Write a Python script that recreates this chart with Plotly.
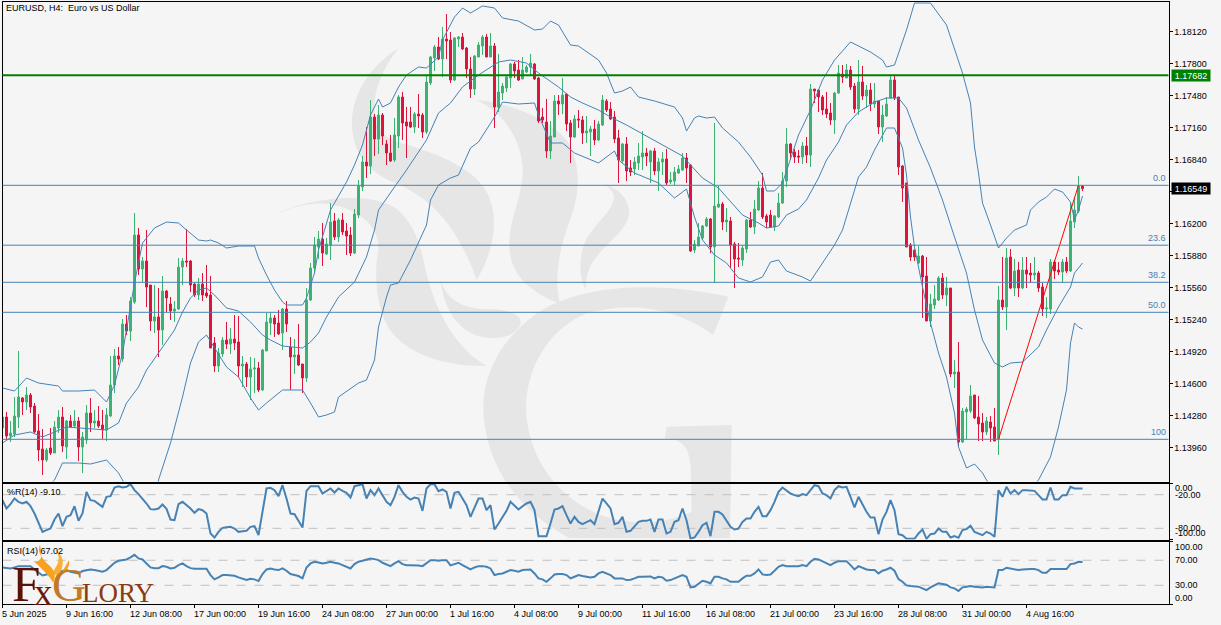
import re
import plotly.graph_objects as go

W, H = 1221, 625

title_text = "EURUSD, H4:  Euro vs US Dollar"
tick_labels = ["5 Jun 2025", "9 Jun 16:00", "12 Jun 08:00", "17 Jun 00:00", "19 Jun 16:00", "24 Jun 08:00",
               "27 Jun 00:00", "1 Jul 16:00", "4 Jul 08:00", "9 Jul 00:00", "11 Jul 16:00", "16 Jul 08:00",
               "21 Jul 00:00", "23 Jul 16:00", "28 Jul 08:00", "31 Jul 00:00", "4 Aug 16:00"]
tick_bars = [0, 16, 32, 48, 64, 80, 96, 112, 128, 144, 160, 176, 192, 208, 224, 240, 256]
price_ticks = [1.18120, 1.17800, 1.17480, 1.17160, 1.16840, 1.16520, 1.16200, 1.15880, 1.15560, 1.15240,
               1.14920, 1.14600, 1.14280, 1.13960]

opens = [
1.14155,1.14265,1.14075,1.14095,1.14265,1.14455,1.14415,1.14485,1.14375,1.14125,
1.13945,1.13835,1.13955,1.13905,1.14155,1.14265,1.13965,1.14225,1.14175,1.14225,
1.13965,1.14035,1.14305,1.14205,1.14225,1.14185,1.14135,1.14275,1.14585,1.14875,
1.14845,1.15195,1.15125,1.15415,1.16085,1.15745,1.15825,1.15585,1.15225,1.15265,
1.15135,1.15525,1.15395,1.15325,1.15345,1.15765,1.15825,1.15825,1.15595,1.15485,
1.15595,1.15505,1.15485,1.15005,1.14775,1.14895,1.15035,1.14995,1.15045,1.15015,
1.14775,1.14795,1.14665,1.14745,1.14755,1.14535,1.14925,1.15205,1.15255,1.15205,
1.15105,1.15345,1.14965,1.14865,1.14885,1.14795,1.14655,1.15435,1.15755,1.15965,
1.16045,1.15895,1.15985,1.16225,1.16065,1.16235,1.16125,1.16085,1.15905,1.16285,
1.16565,1.16815,1.16775,1.17265,1.17045,1.17285,1.16995,1.16905,1.16835,1.17075,
1.17465,1.17215,1.17215,1.17165,1.17295,1.17285,1.17115,1.17605,1.17855,1.17965,
1.17845,1.18045,1.18035,1.17635,1.18045,1.18065,1.17955,1.17745,1.17545,1.17865,
1.17975,1.18065,1.17865,1.17975,1.17365,1.17505,1.17555,1.17655,1.17795,1.17735,
1.17645,1.17715,1.17765,1.17795,1.17655,1.17265,1.17215,1.16925,1.17065,1.17425,
1.17395,1.17495,1.17205,1.17065,1.17245,1.17235,1.17105,1.17115,1.17145,1.17035,
1.17185,1.17425,1.17345,1.17265,1.17055,1.16825,1.16995,1.16755,1.16745,1.16805,
1.16865,1.16905,1.16815,1.16925,1.16725,1.16815,1.16845,1.16615,1.16625,1.16705,
1.16735,1.16855,1.16785,1.15935,1.15975,1.16055,1.16175,1.16245,1.15965,1.16365,
1.16395,1.16215,1.16225,1.15995,1.15855,1.15835,1.15945,1.16235,1.16165,1.16335,
1.16555,1.16275,1.16285,1.16165,1.16265,1.16405,1.16625,1.16995,1.16915,1.16875,
1.16865,1.16975,1.16885,1.17545,1.17535,1.17465,1.17345,1.17305,1.17235,1.17505,
1.17695,1.17655,1.17735,1.17575,1.17345,1.17615,1.17475,1.17535,1.17395,1.17425,
1.17165,1.17275,1.17455,1.17635,1.17465,1.16775,1.16605,1.15985,1.15935,1.15805,
1.15875,1.15675,1.15225,1.15385,1.15435,1.15655,1.15485,1.15555,1.14695,1.14715,
1.14015,1.14315,1.14325,1.14485,1.14265,1.14205,1.14115,1.14215,1.14165,1.14045,
1.15435,1.15365,1.15865,1.15555,1.15735,1.15555,1.15735,1.15705,1.15685,1.15705,
1.15565,1.15345,1.15345,1.15815,1.15735,1.15715,1.15815,1.15725,1.16215,1.16325,1.16575]

highs = [
1.14305,1.14315,1.14225,1.14465,1.14925,1.14465,1.14565,1.14505,1.14405,1.14295,
1.14145,1.13955,1.14155,1.14225,1.14335,1.14365,1.14235,1.14285,1.14335,1.14265,
1.14115,1.14385,1.14455,1.14335,1.14375,1.14335,1.14355,1.14875,1.14945,1.14965,
1.15245,1.15285,1.15465,1.16305,1.16155,1.15865,1.16135,1.15585,1.15585,1.15555,
1.15675,1.15535,1.15465,1.15425,1.15855,1.15855,1.16145,1.15835,1.15605,1.15655,
1.15705,1.15785,1.15675,1.15065,1.14955,1.15065,1.15215,1.15155,1.15285,1.15275,
1.14875,1.14815,1.14865,1.14855,1.14815,1.14945,1.15305,1.15315,1.15285,1.15335,
1.15355,1.15425,1.15065,1.15045,1.15195,1.14795,1.15555,1.15805,1.16065,1.16125,
1.16205,1.16055,1.16405,1.16305,1.16255,1.16305,1.16205,1.16165,1.16345,1.16635,
1.16875,1.17165,1.17435,1.17295,1.17385,1.17305,1.17035,1.17085,1.17255,1.17485,
1.17515,1.17365,1.17365,1.17315,1.17495,1.17305,1.17685,1.17875,1.17985,1.18065,
1.18165,1.18295,1.18115,1.18065,1.18075,1.18105,1.17965,1.17865,1.17885,1.18015,
1.18085,1.18095,1.18105,1.18005,1.17895,1.17605,1.17685,1.17805,1.17815,1.17835,
1.17865,1.17785,1.17895,1.17805,1.17665,1.17355,1.17445,1.17225,1.17485,1.17485,
1.17655,1.17505,1.17235,1.17285,1.17335,1.17275,1.17275,1.17175,1.17235,1.17225,
1.17485,1.17445,1.17415,1.17325,1.17135,1.17005,1.17065,1.16835,1.16865,1.17005,
1.17125,1.16955,1.16935,1.16955,1.16855,1.16915,1.16945,1.16715,1.16765,1.16785,
1.16905,1.16905,1.16795,1.16035,1.16205,1.16185,1.16265,1.16255,1.17205,1.16575,
1.16415,1.16355,1.16265,1.16015,1.16005,1.15985,1.16245,1.16315,1.16435,1.16625,
1.16705,1.16295,1.16335,1.16285,1.16505,1.16715,1.17155,1.17005,1.16945,1.16935,
1.17015,1.17065,1.17595,1.17545,1.17545,1.17485,1.17515,1.17405,1.17515,1.17785,
1.17785,1.17795,1.17775,1.17605,1.17835,1.17775,1.17585,1.17605,1.17605,1.17425,
1.17385,1.17465,1.17675,1.17685,1.17465,1.16785,1.16605,1.16005,1.15935,1.15975,
1.15885,1.15865,1.15495,1.15585,1.15675,1.15705,1.15665,1.15555,1.14835,1.15015,
1.14355,1.14365,1.14585,1.14485,1.14475,1.14305,1.14265,1.14275,1.14355,1.15575,
1.15865,1.15955,1.15945,1.15845,1.15815,1.15865,1.15865,1.15805,1.15865,1.15725,
1.15605,1.15465,1.15845,1.15835,1.15815,1.15845,1.15865,1.16405,1.16465,1.16675,1.16585]

lows = [
1.14115,1.14035,1.14015,1.14065,1.14155,1.14285,1.14335,1.14305,1.14105,1.13825,
1.13685,1.13815,1.13885,1.13905,1.14105,1.13915,1.13845,1.14155,1.14155,1.13825,
1.13705,1.13995,1.14115,1.14155,1.14155,1.14045,1.14025,1.14265,1.14505,1.14785,
1.14815,1.15085,1.15025,1.15395,1.15685,1.15615,1.15365,1.15125,1.15105,1.14865,
1.14985,1.15315,1.15235,1.15215,1.15335,1.15585,1.15765,1.15515,1.15465,1.15435,
1.15425,1.15455,1.14955,1.14715,1.14715,1.14865,1.14945,1.14895,1.14935,1.14665,
1.14565,1.14565,1.14435,1.14505,1.14515,1.14525,1.14925,1.15085,1.15065,1.15085,
1.14935,1.15115,1.14535,1.14695,1.14775,1.14505,1.14615,1.15425,1.15705,1.15845,
1.15775,1.15885,1.15835,1.16035,1.16015,1.16085,1.15885,1.15875,1.15895,1.16255,
1.16525,1.16655,1.16695,1.16875,1.16895,1.16985,1.16785,1.16815,1.16815,1.16955,
1.17035,1.16855,1.17155,1.17105,1.17155,1.17055,1.17095,1.17585,1.17725,1.17835,
1.17665,1.17845,1.17605,1.17625,1.17965,1.17935,1.17655,1.17455,1.17485,1.17865,
1.17885,1.17865,1.17865,1.17155,1.17315,1.17435,1.17515,1.17555,1.17655,1.17625,
1.17645,1.17705,1.17685,1.17635,1.17205,1.17205,1.16855,1.16845,1.17065,1.17285,
1.17295,1.17125,1.16805,1.17055,1.17155,1.16995,1.17005,1.16875,1.16985,1.17025,
1.17175,1.17315,1.17235,1.17005,1.16605,1.16805,1.16625,1.16675,1.16685,1.16735,
1.16735,1.16775,1.16605,1.16685,1.16525,1.16685,1.16585,1.16595,1.16585,1.16695,
1.16725,1.16605,1.15915,1.15905,1.15975,1.16035,1.16165,1.15905,1.15605,1.16355,
1.16135,1.16115,1.15755,1.15555,1.15765,1.15775,1.15905,1.16155,1.16095,1.16325,
1.16245,1.16155,1.16155,1.16125,1.16255,1.16395,1.16565,1.16835,1.16805,1.16805,
1.16795,1.16805,1.16765,1.17405,1.17315,1.17285,1.17255,1.17185,1.17095,1.17495,
1.17605,1.17655,1.17535,1.17305,1.17285,1.17435,1.17355,1.17325,1.17355,1.17095,
1.17015,1.17265,1.17455,1.17435,1.16685,1.16415,1.15965,1.15825,1.15825,1.15795,
1.15255,1.15225,1.15165,1.15345,1.15425,1.15445,1.15375,1.14665,1.14555,1.13975,
1.14005,1.14045,1.14305,1.14245,1.14025,1.14025,1.14085,1.14015,1.14025,1.13885,
1.15335,1.15135,1.15545,1.15475,1.15465,1.15545,1.15555,1.15605,1.15635,1.15515,
1.15275,1.15255,1.15295,1.15645,1.15685,1.15605,1.15705,1.15715,1.16155,1.16305,1.16525]

closes = [
1.14265,1.14075,1.14105,1.14275,1.14465,1.14415,1.14485,1.14365,1.14115,1.13935,
1.13835,1.13935,1.13905,1.14165,1.14265,1.13975,1.14225,1.14165,1.14225,1.13965,
1.14065,1.14305,1.14205,1.14225,1.14175,1.14135,1.14285,1.14585,1.14875,1.14845,
1.15195,1.15125,1.15425,1.16085,1.15745,1.15825,1.15565,1.15225,1.15265,1.15135,
1.15525,1.15455,1.15325,1.15345,1.15765,1.15825,1.15815,1.15585,1.15485,1.15595,
1.15485,1.15475,1.14955,1.14775,1.14905,1.15035,1.14995,1.15045,1.15005,1.14775,
1.14795,1.14665,1.14745,1.14755,1.14535,1.14935,1.15215,1.15255,1.15195,1.15095,
1.15345,1.15195,1.14865,1.14885,1.14785,1.14655,1.15435,1.15755,1.15985,1.16045,
1.15905,1.15995,1.16215,1.16065,1.16235,1.16115,1.16075,1.15905,1.16295,1.16575,
1.16815,1.16775,1.17265,1.17045,1.17285,1.17075,1.16905,1.16825,1.17085,1.17465,
1.17205,1.17175,1.17165,1.17295,1.17275,1.17115,1.17615,1.17865,1.17965,1.17845,
1.18045,1.18025,1.17635,1.18055,1.18065,1.17945,1.17745,1.17545,1.17875,1.17985,
1.18065,1.17865,1.17975,1.17365,1.17515,1.17575,1.17665,1.17795,1.17725,1.17635,
1.17735,1.17765,1.17805,1.17645,1.17225,1.17235,1.16925,1.17075,1.17425,1.17395,
1.17485,1.17195,1.17065,1.17245,1.17235,1.17105,1.17125,1.17145,1.17035,1.17195,
1.17435,1.17335,1.17245,1.17045,1.16835,1.16995,1.16725,1.16715,1.16815,1.16875,
1.16905,1.16875,1.16925,1.16725,1.16815,1.16845,1.16605,1.16635,1.16715,1.16745,
1.16855,1.16755,1.15925,1.15995,1.16065,1.16175,1.16245,1.15965,1.16375,1.16395,
1.16215,1.16235,1.15985,1.15845,1.15845,1.15955,1.16235,1.16165,1.16345,1.16555,
1.16265,1.16215,1.16165,1.16275,1.16405,1.16625,1.16995,1.16905,1.16865,1.16865,
1.16975,1.16885,1.17545,1.17525,1.17465,1.17335,1.17295,1.17235,1.17505,1.17705,
1.17665,1.17735,1.17565,1.17345,1.17615,1.17475,1.17535,1.17395,1.17425,1.17165,
1.17285,1.17395,1.17635,1.17455,1.16765,1.16555,1.15965,1.15865,1.15865,1.15875,
1.15665,1.15225,1.15395,1.15445,1.15655,1.15485,1.15555,1.14695,1.14715,1.14015,
1.14325,1.14345,1.14475,1.14255,1.14195,1.14115,1.14225,1.14155,1.14025,1.15435,
1.15365,1.15855,1.15555,1.15725,1.15555,1.15735,1.15695,1.15685,1.15705,1.15555,
1.15345,1.15355,1.15815,1.15725,1.15715,1.15815,1.15725,1.16225,1.16335,1.16575,1.16549]

upper_bars = [0,3,6,9,14,15,19,23,26,28,30,33,35,38,41,44,46,49,51,52,54,56,59,63,64,66,68,70,71,75,76,78,79,81,82,86,88,90,91,92,94,95,97,99,101,104,106,109,110,113,115,117,120,123,125,129,133,135,137,139,142,144,149,151,153,155,157,159,163,168,170,171,173,174,176,178,180,184,187,190,191,193,195,197,199,202,205,208,212,214,217,220,221,223,226,228,232,236,239,240,242,243,244,245,247,249,251,253,256,257,259,261,263,265,267,268,269,270]
upper_vals = [1.14555,1.14525,1.14655,1.14605,1.14575,1.14525,1.14525,1.14535,1.14415,1.14585,1.14905,1.15605,1.16005,1.16155,1.16215,1.16205,1.16135,1.16035,1.16025,1.16035,1.16005,1.15955,1.15975,1.15975,1.15855,1.15685,1.15535,1.15415,1.15385,1.15385,1.15455,1.15705,1.15935,1.16215,1.16335,1.16615,1.16785,1.16985,1.17135,1.17285,1.17445,1.17365,1.17405,1.17565,1.17685,1.17765,1.17755,1.17865,1.18035,1.18265,1.18355,1.18305,1.18375,1.18355,1.18255,1.18225,1.18135,1.18145,1.18225,1.18185,1.17985,1.17975,1.17835,1.17705,1.17505,1.17525,1.17565,1.17465,1.17425,1.17365,1.17255,1.17125,1.17255,1.17275,1.17255,1.17265,1.17155,1.17015,1.16865,1.16685,1.16525,1.16525,1.16605,1.16855,1.17085,1.17335,1.17635,1.17835,1.18015,1.17975,1.17915,1.17835,1.17765,1.17785,1.18135,1.18405,1.18405,1.18185,1.17835,1.17705,1.17405,1.16965,1.16705,1.16405,1.16185,1.15955,1.16055,1.16135,1.16185,1.16335,1.16415,1.16465,1.16545,1.16515,1.16415,1.16235,1.16335,1.16475]

middle_bars = [0,3,7,10,16,20,26,29,31,34,36,39,43,45,47,49,51,53,56,59,62,65,67,70,75,77,79,81,84,88,91,93,94,98,101,106,109,112,115,119,124,127,131,134,139,142,145,149,152,156,160,164,170,172,175,179,182,185,189,191,194,196,199,201,204,206,209,211,214,218,221,224,226,229,232,235,238,241,243,245,248,250,252,255,259,261,264,267,268,270]
middle_vals = [1.14005,1.14085,1.14115,1.14065,1.14165,1.14155,1.14135,1.14205,1.14405,1.14565,1.14735,1.14905,1.15135,1.15315,1.15455,1.15535,1.15555,1.15485,1.15355,1.15325,1.15215,1.15085,1.15035,1.14975,1.14955,1.15015,1.15105,1.15265,1.15465,1.15615,1.15865,1.16135,1.16335,1.16565,1.16735,1.17035,1.17305,1.17405,1.17565,1.17685,1.17815,1.17835,1.17805,1.17705,1.17565,1.17465,1.17405,1.17335,1.17265,1.17185,1.17095,1.17005,1.16875,1.16785,1.16655,1.16555,1.16415,1.16285,1.16205,1.16155,1.16175,1.16285,1.16345,1.16435,1.16655,1.16835,1.17015,1.17185,1.17315,1.17415,1.17455,1.17455,1.17355,1.17035,1.16755,1.16435,1.16065,1.15705,1.15335,1.15035,1.14805,1.14765,1.14805,1.14815,1.14965,1.15135,1.15365,1.15565,1.15705,1.15805]

lower_bars = [0,8,13,15,19,22,26,29,30,33,38,39,42,45,47,49,51,53,56,59,62,64,66,70,75,77,79,81,83,84,89,91,93,94,96,97,99,102,104,106,107,109,112,114,117,119,123,125,129,133,134,137,140,143,149,151,153,154,158,164,168,171,173,175,178,181,184,187,190,192,194,196,200,202,205,208,210,213,214,216,218,221,223,225,226,227,228,230,232,234,236,238,239,241,243,245,246,252,259,262,264,266,267,268,269,270]
lower_vals = [1.13455,1.13455,1.13635,1.13805,1.13805,1.13795,1.13835,1.13705,1.13635,1.13335,1.13235,1.13635,1.14005,1.14465,1.14805,1.15015,1.15085,1.14955,1.14765,1.14665,1.14455,1.14335,1.14405,1.14535,1.14535,1.14405,1.14265,1.14285,1.14315,1.14465,1.14605,1.14635,1.14835,1.15165,1.15465,1.15585,1.15605,1.15835,1.16005,1.16185,1.16435,1.16585,1.16655,1.16685,1.16955,1.17015,1.17265,1.17415,1.17395,1.17405,1.17285,1.17005,1.17005,1.16905,1.16805,1.16865,1.16925,1.16835,1.16705,1.16605,1.16455,1.16545,1.16265,1.16035,1.15885,1.15805,1.15655,1.15615,1.15665,1.15815,1.15835,1.15725,1.15665,1.15625,1.15805,1.15985,1.16135,1.16535,1.16665,1.16765,1.16935,1.17155,1.17155,1.16955,1.16685,1.16265,1.15965,1.15565,1.15205,1.14905,1.14665,1.14305,1.13965,1.13755,1.13795,1.13705,1.13635,1.13335,1.13635,1.13865,1.14165,1.14535,1.15005,1.15205,1.15165,1.15145]

williams_r = [
-29.8,-44.6,-36.9,-26.8,-32.7,-35.7,-32.7,-40.5,-53.6,-71.4,-86.3,-83.3,-80.4,-64.3,-53.6,-76.2,-59.5,-56.5,-40.5,-66.7,
-53.6,-14.9,-29.8,-31,-36.9,-41.7,-23.8,-22.6,-7.1,-4.8,-7.1,-6,-1.2,-11.9,-19,-26.8,-35.7,-45.8,-46.4,-44.6,
-37.5,-45.2,-64.3,-65.5,-36.9,-32.7,-38.7,-44.6,-52.4,-45.8,-47.6,-53.6,-89.3,-96.4,-86.3,-79.2,-78,-77.4,-80.4,-86.3,
-85.1,-84.5,-77.4,-76.2,-92.3,-47.6,-8.9,-7.7,-11.9,-22.6,-3,-26.8,-53.6,-54.8,-65.5,-78.6,-13.1,-4.8,-4.8,-4.8,
-17.9,-13.1,-8.9,-16.1,-8.9,-13.1,-16.7,-25,-4.8,-3,-1.2,-26.8,-11.9,-20.8,-8.9,-20.8,-32.7,-38.7,-23.8,-3,
-14.9,-23.8,-28.6,-25,-26.8,-48.8,-8.9,-1.2,-1.2,-13.7,-10.7,-14.9,-44.6,-16.7,-14.9,-26.8,-38.7,-59.5,-41.7,-26.8,
-26.8,-47.6,-38.7,-82.1,-71.4,-60.7,-48.8,-32.7,-38.7,-46.4,-40.5,-35.7,-32.7,-47.6,-94,-94,-94,-71.4,-46.4,-44.6,
-40.5,-56.5,-71.4,-59.5,-68.5,-72.6,-68.5,-65.5,-72.6,-47.6,-26.8,-35.7,-44.6,-72.6,-70.2,-59.5,-86.3,-84.5,-77.4,-68.5,
-66.7,-66.7,-64.3,-86.3,-64.3,-64.3,-89.3,-86.3,-68.5,-65.5,-44.6,-65.5,-98.2,-96.4,-86.3,-74.4,-70.2,-94,-50.6,-50.6,
-55.4,-65.5,-77.4,-82.1,-80.4,-68.5,-62.5,-62.5,-50.6,-41.7,-58.3,-58.3,-47.6,-32.7,-14.9,-7.1,-11.9,-17.9,-20.8,-22.6,
-19,-20.8,-11.9,-3,-4.8,-17.9,-20.8,-26.8,-11.9,-4.8,-7.1,-6,-23.8,-42.9,-23.8,-38.7,-50.6,-60.7,-60.7,-90.5,
-64.3,-50.6,-29.8,-47.6,-90.5,-92.3,-98.8,-98.8,-98.8,-89.3,-82.1,-98.8,-90.5,-89.3,-80.4,-86.3,-86.3,-96.4,-94,-97,
-83.3,-81.5,-75.6,-86.3,-89.3,-92.3,-86.3,-89.3,-95.2,-11.9,-23.8,-6,-17.9,-11.9,-19,-11.9,-11.9,-11.9,-13.1,-20.8,
-28.6,-28.6,-7.1,-28.6,-28.6,-20.8,-20.8,-6,-8.9,-8.9,-9.1]

rsi = [
58.5,58,56.9,58.5,60.6,60.6,60.6,60.6,55.3,50,45.7,47.3,48.9,50.5,51.6,53.2,54.3,51.6,50,48.9,
52.7,54.3,55.3,54.3,53.2,51.6,54.3,60.6,66,69.1,70.2,71.3,74.5,78.7,72.9,71.3,64.9,58.5,57.4,57.4,
60.6,59.6,56.9,58,62.2,64.9,60.6,57.4,56.4,56.4,56.4,56.4,46.3,39.4,42.6,46.3,46.3,46.3,45.2,42.6,
40.4,38.3,40.4,39.4,36.7,47.9,55.3,56.9,55.3,54.3,56.9,53.2,47.9,46.8,44.7,41,58.5,64.9,67.6,66.5,
64.9,66,67.6,66,64.9,62.2,59.6,56.9,63.8,67.6,69.1,71.3,72.9,71.8,70.2,66,63.3,60.6,64.9,68.6,
63.8,62.2,62.2,62.2,61.7,60.6,66,70.2,70.2,69.1,70.2,70.2,61.7,63.8,66,62.2,58.5,55.3,58.5,60.6,
60.6,59.6,56.9,46.3,47.9,48.9,51.6,54.3,53.2,51.6,54.3,55.3,55.3,48.9,41,39.4,35.6,41,47.3,47.9,
47.9,46.3,41,43.6,46.3,44.7,43.6,42.6,43.6,48.9,51.6,48.9,46.3,41,40.4,41,38.3,38.8,41,43.6,
43.6,43.6,44.1,41,43.6,42.6,37.2,38.3,41,43.6,46.3,43.6,26.6,27.7,31.9,37.2,35.6,33,43.6,43.6,
41,39.4,35.6,35.6,35.6,41,45.2,45.2,48.9,55.3,47.3,46.3,47.3,53.2,59.6,62.2,60.6,60.6,60.6,60.6,
62.2,60.6,67.6,72.3,71.3,68.6,66,62.2,66,68.6,68.6,68.6,62.2,55.3,60.6,58,55.3,54.3,54.3,48.9,
53.2,55.3,58,53.2,39.9,35.6,29.8,28.7,28.7,27.7,25,22.3,26.6,30.3,33,31.9,30.9,26.6,25,20.7,
26.6,27.7,28.7,27.7,26.6,26.6,27.7,27.7,26.6,54.3,54.3,58,56.9,55.3,54.3,55.3,55.9,55.9,55.9,54.3,
50,50,55.9,55.9,55.9,55.9,55.9,63.8,64.9,67.6,67.02]

resistance_level = 1.17682
last_price = 1.16549
fib_levels = [1.16582, 1.15983, 1.15612, 1.15312, 1.14042]
fib_names = ["0.0", "23.6", "38.2", "50.0", "100"]
trend_bars = [249, 269]
trend_prices = [1.14042, 1.16582]

bars = list(range(len(closes)))

BG = "#f5f5f5"
STEEL = "#4682b4"
TXT = "Liberation Sans"
XL, XR = 2.5, 1168.5


def py(v):
    return 1 - v / H


def px(v):
    return v / W


def paper_path(s, ox=0.0, oy=0.0, k=1.0):
    """Decorative artwork: maps drawing coordinates to paper coordinates."""
    out = []
    for t in re.findall(r"[MCLZ]|-?\d+(?:\.\d+)?,-?\d+(?:\.\d+)?", s):
        if "," in t:
            a, b = t.split(",")
            out.append(f"{px(ox + float(a) * k):.5f},{py(oy + float(b) * k):.5f}")
        else:
            out.append(t)
    return " ".join(out)


fig = go.Figure()
fig.add_trace(go.Candlestick(
    x=bars, open=opens, high=highs, low=lows, close=closes, whiskerwidth=0,
    increasing=dict(line=dict(color="#3cb371", width=1), fillcolor="#3cb371"),
    decreasing=dict(line=dict(color="#dc143c", width=1), fillcolor="#dc143c"),
    xaxis="x", yaxis="y", showlegend=False, hoverinfo="skip"))
for bx, by in ((upper_bars, upper_vals), (middle_bars, middle_vals), (lower_bars, lower_vals)):
    fig.add_trace(go.Scatter(x=bx, y=by, mode="lines", line=dict(color=STEEL, width=1),
                             xaxis="x", yaxis="y", showlegend=False, hoverinfo="skip"))
fig.add_trace(go.Scatter(x=trend_bars, y=trend_prices, mode="lines", line=dict(color="#ff0000", width=1),
                         xaxis="x", yaxis="y", showlegend=False, hoverinfo="skip"))
fig.add_trace(go.Scatter(x=bars, y=williams_r, mode="lines", line=dict(color=STEEL, width=2),
                         xaxis="x2", yaxis="y2", showlegend=False, hoverinfo="skip"))
fig.add_trace(go.Scatter(x=bars, y=rsi, mode="lines", line=dict(color=STEEL, width=2),
                         xaxis="x3", yaxis="y3", showlegend=False, hoverinfo="skip"))

shapes = []
# watermark artwork
WM = "#e6e6e6"
watermark = [
    "M 385,-5 C 280,60 230,170 250,260 C 265,330 300,370 400,410 C 480,450 560,520 620,690 C 680,590 690,480 640,410 C 590,340 470,300 380,275 C 300,250 280,130 385,-5 Z",
    "M 25,490 C 100,450 280,420 370,470 C 430,510 450,580 465,650 C 490,770 550,890 650,948 C 520,950 410,910 360,840 C 320,780 310,680 325,600 C 330,530 270,480 180,462 C 120,455 70,470 25,490 Z",
    "M 620,150 C 700,155 830,200 890,270 C 930,330 935,420 900,510 C 870,590 850,680 870,762 C 790,730 720,680 718,590 C 715,500 760,450 758,350 C 750,260 700,190 620,150 Z",
    "M 990,400 C 1040,410 1075,440 1078,490 C 1070,550 990,590 960,650 C 950,680 945,700 948,722 C 925,680 925,620 950,565 C 985,510 1030,480 1032,440 C 1030,420 1010,405 990,400 Z",
    "M 512,690 C 530,750 580,780 670,778 C 720,780 755,795 752,820 C 745,855 690,870 640,862 C 570,850 520,780 512,690 Z",
    "M 1375,740 C 1200,700 950,690 800,790 C 680,880 640,980 640,1080 C 645,1240 740,1380 900,1465 L 1380,1465 L 1385,1125 L 1190,1130 L 1185,1165 C 1240,1170 1255,1190 1262,1250 L 1265,1385 C 1180,1425 1050,1430 960,1380 C 840,1320 770,1200 768,1070 C 770,960 830,840 950,790 C 1090,750 1230,780 1330,855 Z",
]
for p in watermark:
    shapes.append(dict(type="path", path=paper_path(p, 270, 50, 1 / 3), xref="paper", yref="paper",
                       fillcolor=WM, line=dict(width=0), layer="below"))
# dashed indicator levels
for lv in (-20, -80):
    shapes.append(dict(type="line", xref="x2 domain", yref="y2", x0=0, x1=1, y0=lv, y1=lv,
                       line=dict(color="#c0c0c0", width=1, dash="dash"), layer="below"))
for lv in (70, 30):
    shapes.append(dict(type="line", xref="x3 domain", yref="y3", x0=0, x1=1, y0=lv, y1=lv,
                       line=dict(color="#c0c0c0", width=1, dash="dash"), layer="below"))
# fib + resistance
for lv in fib_levels:
    shapes.append(dict(type="line", xref="x domain", yref="y", x0=0, x1=1, y0=lv, y1=lv,
                       line=dict(color=STEEL, width=1)))
shapes.append(dict(type="line", xref="x domain", yref="y", x0=0, x1=1, y0=resistance_level, y1=resistance_level,
                   line=dict(color="#008000", width=2)))
# logo flames
flames = [
    ("M 120,14 C 108,35 130,60 150,78 C 170,98 165,115 160,128 C 150,110 125,85 100,62 C 125,70 128,50 120,14 Z", "#f7a11e"),
    ("M 165,28 C 190,45 195,70 180,100 C 170,115 155,100 165,85 C 180,65 180,45 165,28 Z", "#f9b030"),
    ("M 207,60 C 212,80 195,100 168,118 C 185,97 197,80 207,60 Z", "#f7a11e"),
]
for p, c in flames:
    shapes.append(dict(type="path", path=paper_path(p, 0, 540, 1 / 3), xref="paper", yref="paper",
                       fillcolor=c, line=dict(width=0), layer="above"))

ann = []


def note(text, x, y, size=9, color="#000000", anchor="left", family=TXT, **kw):
    ann.append(dict(text=text, x=px(x), y=py(y), xref="paper", yref="paper", xanchor=anchor, yanchor="middle",
                    showarrow=False, font=dict(family=family, size=size, color=color), borderpad=0, **kw))


note(title_text, 5, 8)
note("%R(14) -9.10", 6, 492)
note("RSI(14) 67.02", 6, 551)
for name, lv in zip(fib_names, fib_levels):
    ann.append(dict(text=name, x=1, xref="x domain", xanchor="right", xshift=-2, y=lv, yref="y", yanchor="bottom",
                    yshift=1, showarrow=False, font=dict(family=TXT, size=9, color=STEEL), borderpad=0))
for lab, b in zip(tick_labels, tick_bars):
    ann.append(dict(text=lab, x=b, xref="x3", xanchor="left", xshift=-2, y=py(613.5), yref="paper", yanchor="middle",
                    showarrow=False, font=dict(family=TXT, size=9, color="#000000"), borderpad=0))
for txt, yy in (("0.00", 488), ("-20.00", 494.5), ("-80.00", 528), ("-100.00", 533),
                ("100.00", 546.5), ("70.00", 560), ("30.00", 585), ("0.00", 598)):
    note(txt, 1173.5, yy)
for lab, lv, c in ((f"{resistance_level:.5f}", resistance_level, "#008000"), (f"{last_price:.5f}", last_price, "#000000")):
    ann.append(dict(text=lab, x=px(1171), xref="paper", xanchor="left", y=lv, yref="y", yanchor="middle",
                    showarrow=False, font=dict(family=TXT, size=9, color="#ffffff"), bgcolor=c,
                    width=38, height=11, borderpad=0, align="center"))
SERIF = "Liberation Serif"
note("F", 11, 584, 51, "#5a1208", family=SERIF)
note("x", 33, 592, 37, "#6a1a0a", family=SERIF)
note("G", 51, 585, 47, "#c07a28", family=SERIF)
note("LORY", 81, 593, 27, "#8a3a12", family=SERIF)

dom_x = [px(XL), px(XR)]
line_kw = dict(showline=True, linecolor="#000000", linewidth=1, mirror=True, showgrid=False, zeroline=False)
bar_range = [0, (XR - XL) / 4]

fig.update_layout(
    width=W, height=H, autosize=False, margin=dict(l=0, r=0, t=0, b=0, pad=0),
    paper_bgcolor=BG, plot_bgcolor=BG, shapes=shapes, annotations=ann, showlegend=False,
    boxgap=0.5, boxgroupgap=0,
    font=dict(family=TXT, size=9, color="#000000"),
    xaxis=dict(domain=dom_x, range=bar_range, anchor="y", showticklabels=False, ticks="", rangeslider=dict(visible=False), **line_kw),
    yaxis=dict(domain=[py(481.5), py(1.5)], range=[1.18435 - 481.5e-4, 1.18435 - 1.5e-4], anchor="x", side="right",
               tickvals=price_ticks, ticktext=["" if v == 1.16520 else f"{v:.5f}" for v in price_ticks],
               ticks="outside", ticklen=3, tickcolor="#000000", tickfont=dict(family=TXT, size=9), **line_kw),
    xaxis2=dict(domain=dom_x, range=bar_range, anchor="y2", showticklabels=False, ticks="", **line_kw),
    yaxis2=dict(domain=[py(539.5), py(483.5)], range=[-100, 0], anchor="x2", side="right", tickvals=[0, -100],
                showticklabels=False, ticks="outside", ticklen=3, tickcolor="#000000", **line_kw),
    xaxis3=dict(domain=dom_x, range=bar_range, anchor="y3", tickvals=tick_bars, showticklabels=False,
                ticks="outside", ticklen=3, tickcolor="#000000", **line_kw),
    yaxis3=dict(domain=[py(604), py(541.5)], range=[0, 100], anchor="x3", side="right", tickvals=[0, 100],
                showticklabels=False, ticks="outside", ticklen=3, tickcolor="#000000", **line_kw),
)

fig.write_html("out.html", config=dict(displayModeBar=False, staticPlot=True),
               post_script="document.body.style.margin='0';document.documentElement.style.background='#f5f5f5';")
